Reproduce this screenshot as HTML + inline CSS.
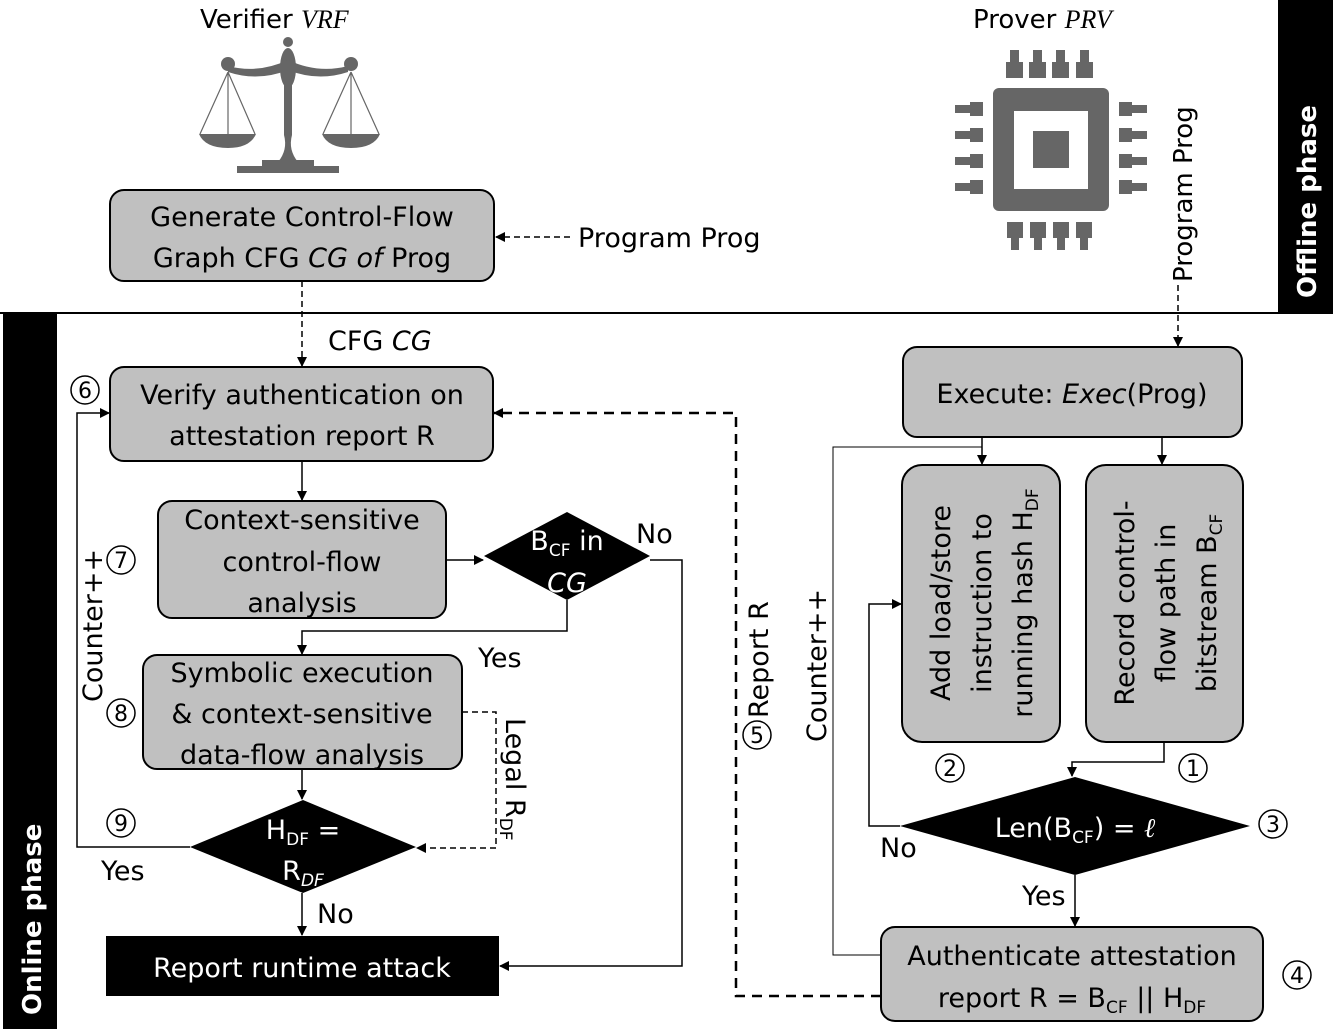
<!DOCTYPE html>
<html><head><meta charset="utf-8"><style>
html,body{margin:0;padding:0;background:#fff}
svg{display:block}
text{font-family:"DejaVu Sans","Liberation Sans",sans-serif;font-size:27px;fill:#000}
.w{fill:#fff}
.s{font-size:17px}
</style></head><body>
<svg width="1340" height="1029" viewBox="0 0 1340 1029" xmlns="http://www.w3.org/2000/svg">
<defs>
<marker id="a" markerWidth="10" markerHeight="10" refX="9" refY="5" orient="auto" markerUnits="userSpaceOnUse">
<path d="M0,0 L10,5 L0,10 z" fill="#000"/></marker>
</defs>
<rect x="1278" y="0" width="55" height="313" fill="#000"/>
<text class="w" font-weight="bold" transform="translate(1316,298) rotate(-90)" style="font-size:26px">Offline phase</text>
<line x1="0" y1="313" x2="1333" y2="313" stroke="#000" stroke-width="2"/>
<rect x="3" y="313" width="54" height="716" fill="#000"/>
<text class="w" font-weight="bold" transform="translate(41,1015) rotate(-90)" style="font-size:26px">Online phase</text>

<text x="200" y="28" style="font-size:26px">Verifier <tspan font-family="Liberation Serif" font-style="italic">VRF</tspan></text>
<g fill="#666" stroke="none">
<circle cx="288" cy="42" r="5"/>
<ellipse cx="288" cy="68" rx="8" ry="20"/>
<rect x="284" y="80" width="8" height="55"/>
<path d="M284,135 Q288,150 278,162 L298,162 Q288,150 292,135z"/>
<rect x="262" y="160" width="52" height="6"/>
<rect x="237" y="166" width="102" height="7"/>
<path d="M228,66 Q258,74 288,60 Q318,74 348,66 L348,72 Q318,82 288,70 Q258,82 228,72z"/>
<circle cx="228" cy="64" r="7"/><circle cx="351" cy="64" r="7"/>
<path d="M199,134 L256,134 Q250,148 228,148 Q205,148 199,134z"/>
<path d="M322,134 L380,134 Q374,148 351,148 Q328,148 322,134z"/>
</g>
<g stroke="#666" stroke-width="1.2" fill="none">
<path d="M228,72 L200,134 M228,72 L228,134 M228,72 L255,134"/>
<path d="M351,72 L323,134 M351,72 L351,134 M351,72 L379,134"/>
</g>

<text x="973" y="28" style="font-size:26px">Prover <tspan font-family="Liberation Serif" font-style="italic">PRV</tspan></text>
<g fill="#666">
<rect x="993" y="88" width="116" height="123" rx="6"/>
<rect x="1014" y="111" width="74" height="78" fill="#fff"/>
<rect x="1033" y="131" width="36" height="37"/>
<rect x="1010" y="50" width="9" height="28"/><rect x="1033" y="50" width="9" height="28"/><rect x="1056" y="50" width="9" height="28"/><rect x="1080" y="50" width="9" height="28"/>
<rect x="1006" y="62" width="17" height="16"/><rect x="1029" y="62" width="17" height="16"/><rect x="1052" y="62" width="17" height="16"/><rect x="1076" y="62" width="17" height="16"/>
<rect x="1007" y="222" width="16" height="16"/><rect x="1030" y="222" width="16" height="16"/><rect x="1053" y="222" width="16" height="16"/><rect x="1076" y="222" width="16" height="16"/>
<rect x="1011" y="222" width="8" height="28"/><rect x="1034" y="222" width="8" height="28"/><rect x="1057" y="222" width="8" height="28"/><rect x="1080" y="222" width="8" height="28"/>
<rect x="955" y="105" width="28" height="8"/><rect x="955" y="131" width="28" height="8"/><rect x="955" y="157" width="28" height="8"/><rect x="955" y="183" width="28" height="8"/>
<rect x="970" y="102" width="13" height="14"/><rect x="970" y="128" width="13" height="14"/><rect x="970" y="154" width="13" height="14"/><rect x="970" y="180" width="13" height="14"/>
<rect x="1119" y="105" width="28" height="8"/><rect x="1119" y="131" width="28" height="8"/><rect x="1119" y="157" width="28" height="8"/><rect x="1119" y="183" width="28" height="8"/>
<rect x="1119" y="102" width="13" height="14"/><rect x="1119" y="128" width="13" height="14"/><rect x="1119" y="154" width="13" height="14"/><rect x="1119" y="180" width="13" height="14"/>
</g>
<text transform="translate(1192,282) rotate(-90)" style="font-size:26px">Program Prog</text>

<g fill="#c0c0c0" stroke="#000" stroke-width="2">
<rect x="110" y="190" width="384" height="91" rx="14"/>
<rect x="110" y="367" width="383" height="94" rx="14"/>
<rect x="158" y="501" width="288" height="117" rx="14"/>
<rect x="143" y="655" width="319" height="114" rx="14"/>
<rect x="903" y="347" width="339" height="90" rx="14"/>
<rect x="902" y="465" width="158" height="277" rx="20"/>
<rect x="1086" y="465" width="157" height="277" rx="20"/>
<rect x="881" y="927" width="382" height="94" rx="14"/>
</g>
<rect x="106" y="936" width="393" height="60" fill="#000"/>
<path d="M484,556 L567,512 L650,556 L567,600z" fill="#000"/>
<path d="M190,847 L303,800 L416,847 L303,893z" fill="#000"/>
<path d="M900,826 L1075,777 L1250,826 L1075,875z" fill="#000"/>

<g text-anchor="middle">
<text x="302" y="226">Generate Control-Flow</text>
<text x="302" y="267">Graph CFG <tspan font-style="italic">CG of</tspan> Prog</text>
<text x="302" y="404">Verify authentication on</text>
<text x="302" y="445">attestation report R</text>
<text x="302" y="529">Context-sensitive</text>
<text x="302" y="571">control-flow</text>
<text x="302" y="612">analysis</text>
<text x="302" y="682">Symbolic execution</text>
<text x="302" y="723">&amp; context-sensitive</text>
<text x="302" y="764">data-flow analysis</text>
<text class="w" x="302" y="977">Report runtime attack</text>
<text x="1072" y="403">Execute: <tspan font-style="italic">Exec</tspan>(Prog)</text>
<text x="1072" y="965">Authenticate attestation</text>
<text x="1072" y="1007">report R = B<tspan class="s" dy="6">CF</tspan><tspan dy="-6"> || H</tspan><tspan class="s" dy="6">DF</tspan></text>
<text class="w" x="567" y="550">B<tspan class="s" dy="6">CF</tspan><tspan dy="-6"> in</tspan></text>
<text class="w" x="567" y="592" font-style="italic">CG</text>
<text class="w" x="303" y="839">H<tspan class="s" dy="6">DF</tspan><tspan dy="-6"> =</tspan></text>
<text class="w" x="303" y="880">R<tspan class="s" dy="6" font-style="italic">DF</tspan></text>
<text class="w" x="1075" y="837">Len(B<tspan class="s" dy="6">CF</tspan><tspan dy="-6">) = </tspan><tspan font-family="Liberation Serif" font-style="italic">ℓ</tspan></text>
</g>
<g transform="translate(950,603) rotate(-90)" text-anchor="middle">
<text x="0" y="0">Add load/store</text>
<text x="0" y="41">instruction to</text>
<text x="0" y="82">running hash H<tspan class="s" dy="6">DF</tspan></text>
</g>
<g transform="translate(1134,603) rotate(-90)" text-anchor="middle">
<text x="0" y="0">Record control-</text>
<text x="0" y="41">flow path in</text>
<text x="0" y="82">bitstream B<tspan class="s" dy="6">CF</tspan></text>
</g>

<g stroke="#000" stroke-width="1.5" fill="none">
<line x1="570" y1="237" x2="496" y2="237" stroke-dasharray="6,4" marker-end="url(#a)"/>
<line x1="302" y1="281" x2="302" y2="366" stroke-dasharray="6,4" marker-end="url(#a)"/>
<line x1="1178" y1="285" x2="1178" y2="346" stroke-dasharray="6,4" marker-end="url(#a)"/>
<line x1="302" y1="461" x2="302" y2="500" marker-end="url(#a)"/>
<line x1="446" y1="560" x2="483" y2="560" marker-end="url(#a)"/>
<polyline points="567,600 567,631 302,631 302,654" marker-end="url(#a)"/>
<polyline points="650,560 682,560 682,966 500,966" marker-end="url(#a)"/>
<polyline points="462,712 496,712 496,848 417,848" stroke-dasharray="6,4" marker-end="url(#a)"/>
<line x1="302" y1="769" x2="302" y2="799" marker-end="url(#a)"/>
<line x1="302" y1="893" x2="302" y2="935" marker-end="url(#a)"/>
<polyline points="190,847 77,847 77,413 109,413" marker-end="url(#a)"/>
<polyline points="881,996 736,996 736,413 494,413" stroke-width="2.5" stroke-dasharray="10,7" marker-end="url(#a)"/>
<line x1="982" y1="437" x2="982" y2="464" marker-end="url(#a)"/>
<line x1="1162" y1="437" x2="1162" y2="464" marker-end="url(#a)"/>
<polyline points="982,447 833,447 833,955 881,955" stroke-width="1"/>
<polyline points="1164,742 1164,762 1072,762 1072,776" marker-end="url(#a)"/>
<polyline points="900,826 869,826 869,604 901,604" marker-end="url(#a)"/>
<line x1="1075" y1="875" x2="1075" y2="926" marker-end="url(#a)"/>
</g>

<text x="578" y="247">Program Prog</text>
<text x="328" y="350">CFG <tspan font-style="italic">CG</tspan></text>
<text x="636" y="543">No</text>
<text x="478" y="667">Yes</text>
<text x="317" y="923">No</text>
<text x="101" y="880">Yes</text>
<text x="880" y="857">No</text>
<text x="1022" y="905">Yes</text>
<text transform="translate(102,702) rotate(-90)">Counter++</text>
<text transform="translate(826,742) rotate(-90)">Counter++</text>
<text transform="translate(768,718) rotate(-90)">Report R</text>
<text transform="translate(506,718) rotate(90)">Legal R<tspan class="s" dy="6">DF</tspan></text>

<g fill="none" stroke="#000" stroke-width="1.5">
<circle cx="85" cy="390" r="14"/><circle cx="121" cy="560" r="14"/><circle cx="121" cy="713" r="14"/><circle cx="121" cy="823" r="14"/>
<circle cx="757" cy="735" r="14"/><circle cx="950" cy="768" r="14"/><circle cx="1193" cy="768" r="14"/><circle cx="1273" cy="824" r="14"/><circle cx="1297" cy="975" r="14"/>
</g>
<g text-anchor="middle" style="font-size:22px">
<text x="85" y="398" style="font-size:22px">6</text>
<text x="121" y="568" style="font-size:22px">7</text>
<text x="121" y="721" style="font-size:22px">8</text>
<text x="121" y="831" style="font-size:22px">9</text>
<text x="757" y="743" style="font-size:22px">5</text>
<text x="950" y="776" style="font-size:22px">2</text>
<text x="1193" y="776" style="font-size:22px">1</text>
<text x="1273" y="832" style="font-size:22px">3</text>
<text x="1297" y="983" style="font-size:22px">4</text>
</g>
</svg>
</body></html>
